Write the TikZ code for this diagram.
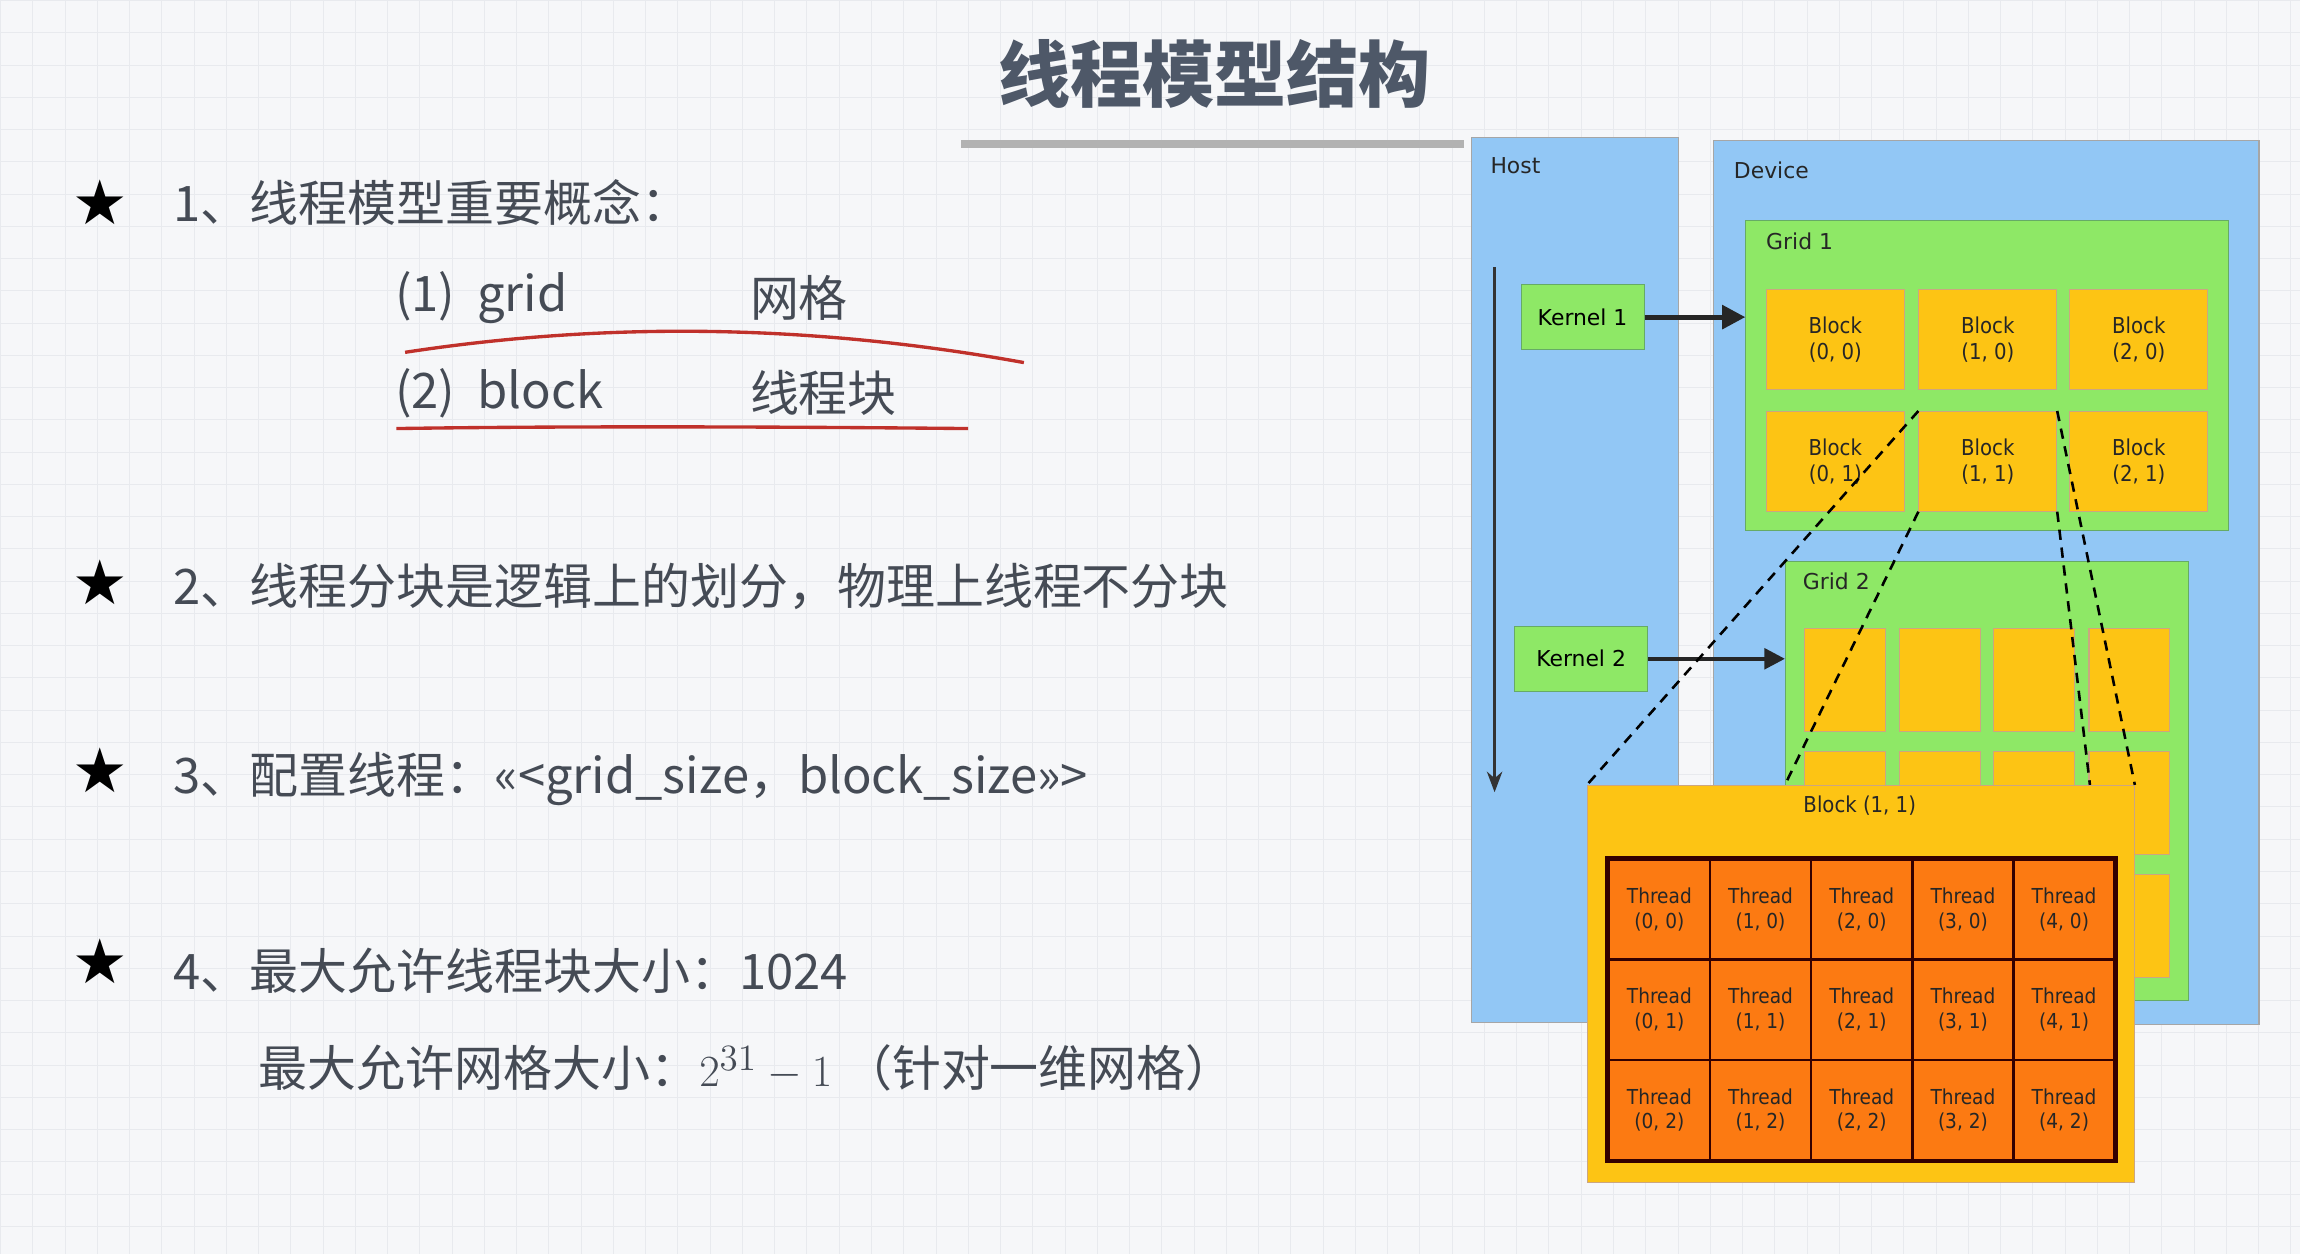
\documentclass[tikz,border=0pt]{standalone}
\usepackage{fontspec}
\usetikzlibrary{arrows.meta}
\setmainfont{Noto Sans CJK SC}
\newfontfamily\djfont{DejaVu Sans}
\newfontfamily\djcfont{DejaVu Sans Condensed}
\definecolor{bgc}{HTML}{F6F7F9}
\definecolor{gridc}{HTML}{E8EAEE}
\definecolor{hostc}{HTML}{92C7F5}
\definecolor{greenc}{HTML}{8EE866}
\definecolor{blockc}{HTML}{FDC414}
\definecolor{threadc}{HTML}{FC7A12}
\definecolor{txt}{HTML}{454B55}
\definecolor{titlec}{HTML}{4E5868}
\definecolor{penred}{HTML}{C0312B}
\begin{document}
\begin{tikzpicture}[x=0.02cm,y=-0.02cm,
  panel/.style={draw=gray!70,fill=hostc,anchor=north west,inner sep=0},
  gbox/.style={draw=green!45!black!60,fill=greenc,anchor=north west,inner sep=0},
  bbox/.style={draw=orange!60!black!50,fill=blockc,anchor=north west,inner sep=0,minimum width=1.88cm,minimum height=1.36cm,font=\djcfont\fontsize{8.5}{10}\selectfont,text=black!85,align=center},
  sbox/.style={draw=orange!60!black!50,fill=blockc,anchor=north west,inner sep=0,minimum width=1.1cm,minimum height=1.4cm},
  tbox/.style={draw=black!80!red,line width=1pt,fill=threadc,anchor=north west,inner sep=0,minimum width=1.38cm,minimum height=1.367cm,font=\djcfont\fontsize{8}{9.5}\selectfont,text=black!85,align=center},
  lbl/.style={anchor=west,font=\djfont\fontsize{8.5}{10}\selectfont,text=black!85},
  itm/.style={anchor=west,font=\fontsize{19}{22}\selectfont,text=txt},
  star/.style={font=\djfont\fontsize{24}{24}\selectfont},
  dsh/.style={dashed,line width=1pt,dash pattern=on 4pt off 3pt}]
\fill[bgc] (0,0) rectangle (1568,855);
\foreach \i in {0,22,...,1568} \draw[gridc,line width=0.3pt] (\i,0)--(\i,855);
\foreach \j in {0,22,...,855} \draw[gridc,line width=0.3pt] (0,\j)--(1568,\j);
\useasboundingbox (0,0) rectangle (1568,855);
% title
\node[font=\fontsize{28}{30}\selectfont\bfseries,text=titlec] (title) at (828,50) {线程模型结构};
\fill[gray!60] (655,95) rectangle (998,101);
% left text
\foreach \y/\n in {138/s1,397/s2,525/s3,655/s4} \node[star] (\n) at (68,\y) {★};
\node[itm] (t1) at (112,138) {1、线程模型重要概念：};
\node[itm] (t1a) at (263,203) {(1)\ \ grid};
\node[itm] (t1b) at (505,203) {网格};
\node[itm] (t1c) at (263,268) {(2)\ \ block};
\node[itm] (t1d) at (505,268) {线程块};
\draw[penred,line width=1.3pt] (276,240) .. controls (420,218) and (560,222) .. (698,247);
\draw[penred,line width=1.3pt] (270,292) .. controls (400,290) and (560,291) .. (660,292);
\node[itm] (t2) at (112,400) {2、线程分块是逻辑上的划分，物理上线程不分块};
\node[itm] (t3) at (112,531) {3、配置线程：<<<grid\_size，block\_size>>>};
\node[itm] (t4) at (112,662) {4、最大允许线程块大小：1024};
\node[itm] (t5) at (170,728) {最大允许网格大小：$2^{31}-1$ （针对一维网格）};
% diagram
\node[panel,minimum width=2.82cm,minimum height=12.08cm] (host) at (1003,93) {};
\node[panel,minimum width=7.44cm,minimum height=12.06cm] (device) at (1168,95) {};
\node[lbl] (hostl) at (1010,113) {Host};
\node[lbl] (devl) at (1176,116) {Device};
\coordinate (ta) at (1019,182); \coordinate (tb) at (1019,540);
\draw[-{Stealth[length=8pt]},line width=1pt,black!80] (ta)--(tb);
\node[gbox,minimum width=6.58cm,minimum height=4.22cm] (grid1) at (1190,150) {};
\node[lbl] (g1l) at (1198,164) {Grid 1};
\foreach \c/\x in {0/1204,1/1308,2/1411}{
  \node[bbox] (b\c0) at (\x,197) {Block\\(\c, 0)};
  \node[bbox] (b\c1) at (\x,280) {Block\\(\c, 1)};}
\node[gbox,minimum width=5.5cm,minimum height=6.0cm] (grid2) at (1217,382) {};
\node[lbl] (g2l) at (1223,396) {Grid 2};
\foreach \c/\x in {0/1230,1/1295,2/1359,3/1424}
  \foreach \r/\y in {0/428,1/512,2/596}
    \node[sbox] (s\c\r) at (\x,\y) {};
\node[gbox,minimum width=1.68cm,minimum height=0.88cm,font=\djfont\fontsize{8.5}{10}\selectfont,anchor=center] (k1) at (1079,216) {Kernel 1};
\node[gbox,minimum width=1.82cm,minimum height=0.88cm,font=\djfont\fontsize{8.5}{10}\selectfont,anchor=center] (k2) at (1078,449) {Kernel 2};
\draw[-{Triangle[length=9pt,width=9pt]},line width=2pt,black!85] (k1.east)--(grid1.west|-k1.east);
\draw[-{Triangle[length=8pt,width=8pt]},line width=1.5pt,black!85] (k2.east)--(grid2.west|-k2.east);
% big block
\node[draw=orange!60!black!50,fill=blockc,anchor=north west,inner sep=0,minimum width=7.46cm,minimum height=5.42cm] (big) at (1082,535) {};
\draw[dsh] (b11.north west)--(big.north west);
\draw[dsh] (b11.south west)--(1217,535);
\draw[dsh] (b11.south east)--(1425,535);
\draw[dsh] (b11.north east)--(big.north east);
\node[font=\djcfont\fontsize{8.5}{10}\selectfont,text=black!85] (bigl) at (1268,549) {Block (1, 1)};
\foreach \c in {0,...,4}
  \foreach \r in {0,1,2}
    \node[tbox] (t\c\r) at ({1096+\c*69},{585+\r*68.3}) {Thread\\(\c, \r)};
\draw[black!80!red,line width=1.6pt] (t00.north west) rectangle (t42.south east);
\end{tikzpicture}
\end{document}
